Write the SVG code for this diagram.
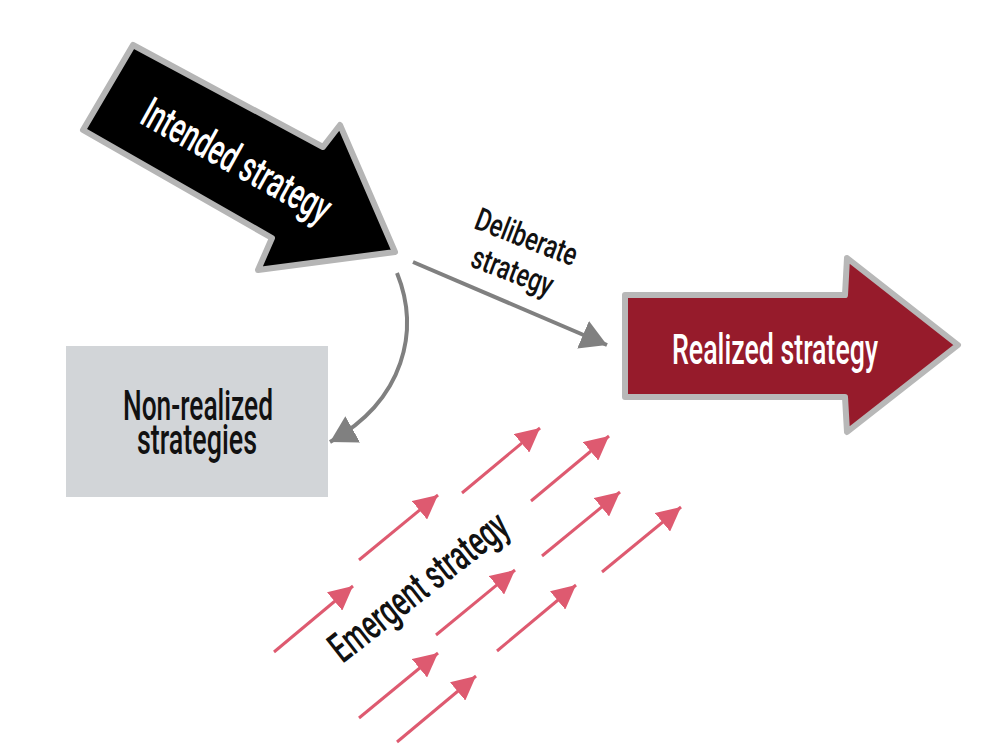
<svg xmlns="http://www.w3.org/2000/svg" width="1000" height="750" viewBox="0 0 1000 750">
  <style>
    .lbl { font-family: Roboto, "DejaVu Sans Condensed", "Liberation Sans", sans-serif; font-weight: 500; }
    .big { fill: #ffffff; font-size: 43px; }
    .dark { fill: #111111; }
    .gray-conn { fill: none; stroke: #808080; stroke-width: 4; }
    .pink-conn { fill: none; stroke: #de5a70; stroke-width: 3; }
  </style>
  <defs>
    <marker id="grayHead" markerUnits="userSpaceOnUse" markerWidth="28" markerHeight="30" refX="26" refY="15" orient="auto">
      <path d="M0,0 L26,15 L0,30 z" fill="#808080"/>
    </marker>
    <marker id="pinkHead" markerUnits="userSpaceOnUse" markerWidth="26" markerHeight="24" refX="24" refY="12" orient="auto">
      <path d="M0,0 L24,12 L0,24 z" fill="#de5a70"/>
    </marker>
  </defs>
  <rect width="1000" height="750" fill="#ffffff"/>

  <g id="intended">
    <path d="M133,45 L323,147 L340,125 L395,252 L258,270 L272,238 L83,130 Z" fill="#000000" stroke="#b5b5b5" stroke-width="6" stroke-linejoin="round"/>
    <text class="lbl big" x="237" y="175" text-anchor="middle" textLength="210" lengthAdjust="spacingAndGlyphs" transform="rotate(29 237 160)">Intended strategy</text>
  </g>

  <g id="realized">
    <path d="M625,295 L845,295 L847,258 L958,345 L847,432 L845,397 L625,397 Z" fill="#961b2b" stroke="#b8b8b8" stroke-width="6" stroke-linejoin="round"/>
    <text class="lbl big" x="775" y="364" text-anchor="middle" textLength="206" lengthAdjust="spacingAndGlyphs">Realized strategy</text>
  </g>

  <g id="nonrealized">
    <rect x="66" y="346" width="262" height="151" fill="#d2d5d8"/>
    <text class="lbl dark" x="198" y="420" font-size="42" text-anchor="middle" textLength="150" lengthAdjust="spacingAndGlyphs">Non-realized</text>
    <text class="lbl dark" x="197" y="454" font-size="42" text-anchor="middle" textLength="120" lengthAdjust="spacingAndGlyphs">strategies</text>
  </g>

  <g id="connectors">
    <path class="gray-conn" d="M413,262 L607,345" marker-end="url(#grayHead)"/>
    <path class="gray-conn" d="M397,273 C420,330 405,400 330,442" marker-end="url(#grayHead)"/>
    <g id="emergent-arrows">
      <path class="pink-conn" d="M462,493 L540,428" marker-end="url(#pinkHead)"/>
      <path class="pink-conn" d="M531,501 L609,436" marker-end="url(#pinkHead)"/>
      <path class="pink-conn" d="M359,560 L438,495" marker-end="url(#pinkHead)"/>
      <path class="pink-conn" d="M542,556 L620,492" marker-end="url(#pinkHead)"/>
      <path class="pink-conn" d="M602,572 L681,507" marker-end="url(#pinkHead)"/>
      <path class="pink-conn" d="M274,652 L353,586" marker-end="url(#pinkHead)"/>
      <path class="pink-conn" d="M436,635 L515,570" marker-end="url(#pinkHead)"/>
      <path class="pink-conn" d="M497,651 L576,585" marker-end="url(#pinkHead)"/>
      <path class="pink-conn" d="M359,718 L438,653" marker-end="url(#pinkHead)"/>
      <path class="pink-conn" d="M397,742 L476,676" marker-end="url(#pinkHead)"/>
    </g>
  </g>

  <g id="deliberate-label">
    <text class="lbl dark" x="527" y="248" font-size="32" text-anchor="middle" textLength="107" lengthAdjust="spacingAndGlyphs" transform="rotate(21 527 236)">Deliberate</text>
    <text class="lbl dark" x="513" y="282" font-size="32" text-anchor="middle" textLength="85" lengthAdjust="spacingAndGlyphs" transform="rotate(21 513 270)">strategy</text>
  </g>

  <g id="emergent-label">
    <text class="lbl dark" x="418" y="601" font-size="42" text-anchor="middle" textLength="215" lengthAdjust="spacingAndGlyphs" transform="rotate(-38 418 586)">Emergent strategy</text>
  </g>
</svg>
